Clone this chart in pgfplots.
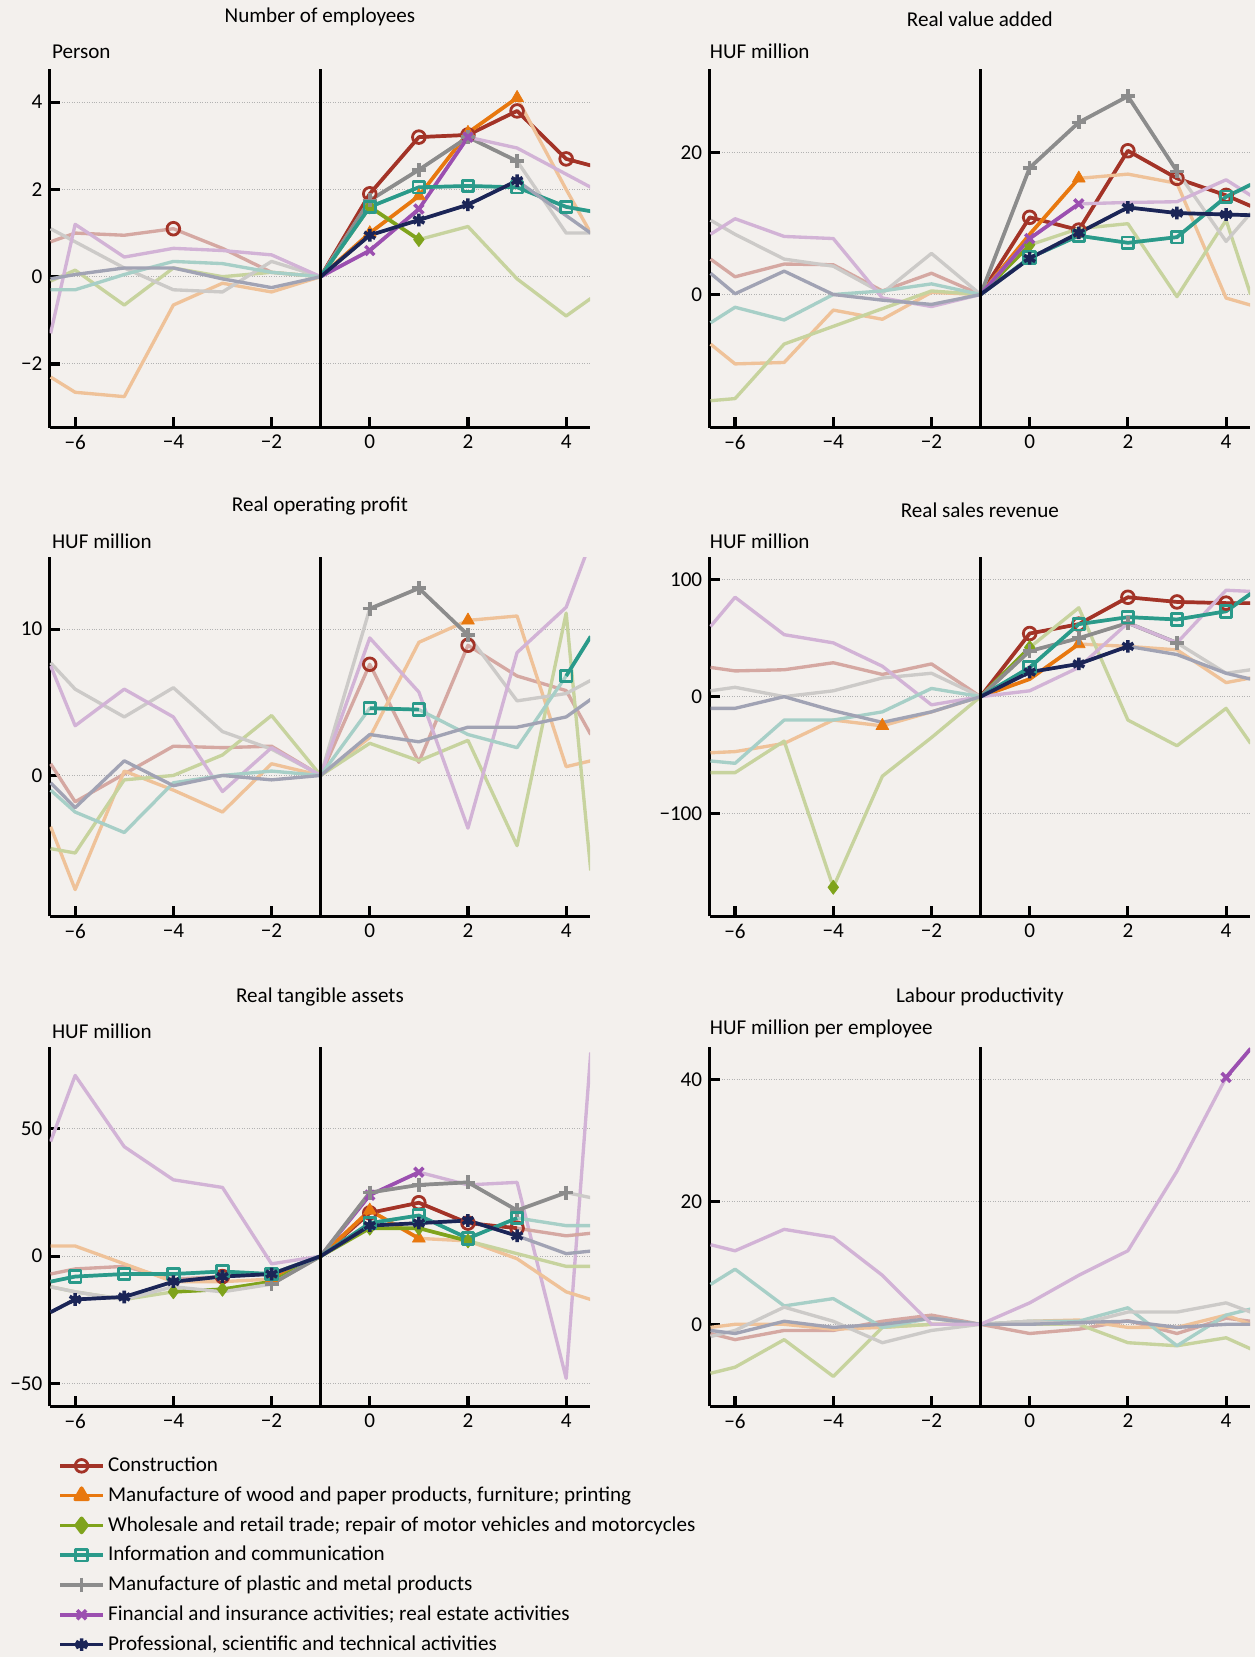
\documentclass[border=0pt]{standalone}
\usepackage{fontspec}
\setmainfont{Carlito}
\usepackage{pgfplots}
\pgfplotsset{compat=1.18}
\definecolor{bg}{HTML}{F3F0ED}
\definecolor{cCon}{HTML}{A33327}
\definecolor{cWoo}{HTML}{E8780F}
\definecolor{cWho}{HTML}{7FA31C}
\definecolor{cInf}{HTML}{2A9A8A}
\definecolor{cPla}{HTML}{8C8C8C}
\definecolor{cFin}{HTML}{9B4FB0}
\definecolor{cPro}{HTML}{1B2557}
\pgfplotsset{
 mCon/.style={mark=o, mark size=3.6pt, mark options={fill=bg, line width=1.6pt}},
 mWoo/.style={mark=triangle*, mark size=4.2pt},
 mWho/.style={mark=diamond*, mark size=4pt},
 mInf/.style={mark=square, mark size=3.3pt, mark options={fill=bg, line width=1.6pt}},
 mPla/.style={mark=+, mark size=4pt, mark options={line width=2pt}},
 mFin/.style={mark=x, mark size=3.6pt, mark options={line width=2pt}},
 mPro/.style={mark=asterisk, mark size=3.6pt, mark options={line width=2pt}},
 panel/.style={scale only axis, width=307.2pt, height=204pt, anchor=south west,
  xmin=-6.52, xmax=4.49, clip=true,
  axis x line*=bottom, axis y line*=left, axis line style={line width=1.8pt,-},
  tick style={line width=1.8pt, black}, major tick length=6pt, tick align=inside,
  xtick={-6,-4,-2,0,2,4}, xticklabels={−6,−4,−2,0,2,4},
  ymajorgrids, grid style={densely dotted, gray!60, line width=0.5pt},
  tick label style={font=\fontsize{12}{14}\selectfont},
  every axis plot/.append style={line join=round}},
}
% color, markstyle, faded, solid, marks
\newcommand\ser[5]{%
 \addplot[forget plot, draw=#1!38!bg, line width=1.9pt, no markers] coordinates {#3};
 \addplot[forget plot, draw=#1, line width=2.1pt, no markers] coordinates {#4};
 \addplot[forget plot, #1, only marks, #2] coordinates {#5};
}
\newcommand\vl{\draw[line width=1.8pt] (axis cs:-1,\pgfkeysvalueof{/pgfplots/ymin}) -- (axis cs:-1,\pgfkeysvalueof{/pgfplots/ymax});}
\begin{document}
\fontsize{12}{14}\selectfont
\begin{tikzpicture}
\fill[bg] (0,0) rectangle (713.4pt,-941.4pt);
\node at (181.8pt,-9.6pt) {Number of employees};
\node at (556.8pt,-11pt) {Real value added};
\node at (181.8pt,-287.4pt) {Real operating profit};
\node at (556.8pt,-289.8pt) {Real sales revenue};
\node at (181.8pt,-566.4pt) {Real tangible assets};
\node at (556.8pt,-566.4pt) {Labour productivity};
\node[anchor=west,inner sep=0] at (29.4pt,-29.4pt) {Person};
\node[anchor=west,inner sep=0] at (403.2pt,-29.4pt) {HUF million};
\node[anchor=west,inner sep=0] at (29.4pt,-307.8pt) {HUF million};
\node[anchor=west,inner sep=0] at (403.2pt,-307.8pt) {HUF million};
\node[anchor=west,inner sep=0] at (29.4pt,-586.2pt) {HUF million};
\node[anchor=west,inner sep=0] at (403.2pt,-584.4pt) {HUF million per employee};

% P1
\begin{axis}[panel, at={(28.2pt,-243pt)}, ymin=-3.46, ymax=4.77, ytick={-2,0,2,4}, yticklabels={−2,0,2,4}]
\ser{cCon}{mCon}{(-6.5,0.8)(-6,1.0)(-5,0.95)(-4,1.1)(-3,0.65)(-2,0.1)(-1,0)(0,1.9)(1,3.2)(2,3.25)(3,3.8)(4,2.7)(4.5,2.55)}{(-1,0)(0,1.9)(1,3.2)(2,3.25)(3,3.8)(4,2.7)(4.5,2.55)}{(-4,1.1)(0,1.9)(1,3.2)(2,3.25)(3,3.8)(4,2.7)}
\ser{cWoo}{mWoo}{(-6.5,-2.3)(-6,-2.65)(-5,-2.75)(-4,-0.65)(-3,-0.15)(-2,-0.35)(-1,0)(0,1.0)(1,1.85)(2,3.3)(3,4.1)(4,2.0)(4.5,1.0)}{(-1,0)(0,1.0)(1,1.85)(2,3.3)(3,4.1)}{(0,1.0)(1,1.85)(2,3.3)(3,4.1)}
\ser{cWho}{mWho}{(-6.5,-0.1)(-6,0.15)(-5,-0.65)(-4,0.2)(-3,0.0)(-2,0.1)(-1,0)(0,1.6)(1,0.85)(2,1.15)(3,-0.05)(4,-0.9)(4.5,-0.5)}{(-1,0)(0,1.6)(1,0.85)}{(0,1.6)(1,0.85)}
\ser{cPla}{mPla}{(-6.5,1.1)(-6,0.8)(-5,0.2)(-4,-0.3)(-3,-0.35)(-2,0.35)(-1,0)(0,1.75)(1,2.45)(2,3.2)(3,2.65)(4,1.0)(4.5,1.0)}{(-1,0)(0,1.75)(1,2.45)(2,3.2)(3,2.65)}{(0,1.75)(1,2.45)(2,3.2)(3,2.65)}
\ser{cFin}{mFin}{(-6.5,-1.3)(-6,1.2)(-5,0.45)(-4,0.65)(-3,0.6)(-2,0.5)(-1,0)(0,0.6)(1,1.55)(2,3.2)(3,2.95)(4,2.35)(4.5,2.05)}{(-1,0)(0,0.6)(1,1.55)(2,3.2)}{(0,0.6)(1,1.55)(2,3.2)}
\ser{cInf}{mInf}{(-6.5,-0.3)(-6,-0.3)(-5,0.05)(-4,0.35)(-3,0.3)(-2,0.1)(-1,0)(0,1.6)(1,2.05)(2,2.08)(3,2.05)(4,1.6)(4.5,1.5)}{(-1,0)(0,1.6)(1,2.05)(2,2.08)(3,2.05)(4,1.6)(4.5,1.5)}{(0,1.6)(1,2.05)(2,2.08)(3,2.05)(4,1.6)}
\ser{cPro}{mPro}{(-6.5,-0.05)(-6,0.05)(-5,0.2)(-4,0.2)(-3,-0.05)(-2,-0.25)(-1,0)(0,0.95)(1,1.3)(2,1.65)(3,2.2)(4,1.4)(4.5,1.0)}{(-1,0)(0,0.95)(1,1.3)(2,1.65)(3,2.2)}{(0,0.95)(1,1.3)(2,1.65)(3,2.2)}
\vl
\end{axis}

% P2
\begin{axis}[panel, at={(403.2pt,-243pt)}, ymin=-18.8, ymax=31.9, ytick={0,20}, yticklabels={0,20}]
\ser{cCon}{mCon}{(-6.5,5)(-6,2.5)(-5,4.3)(-4,4.2)(-3,0.5)(-2,3)(-1,0)(0,10.9)(1,9.1)(2,20.3)(3,16.4)(4,14.0)(4.5,12.5)}{(-1,0)(0,10.9)(1,9.1)(2,20.3)(3,16.4)(4,14.0)(4.5,12.5)}{(0,10.9)(1,9.1)(2,20.3)(3,16.4)(4,14.0)}
\ser{cWoo}{mWoo}{(-6.5,-7)(-6,-9.8)(-5,-9.6)(-4,-2.2)(-3,-3.5)(-2,0.3)(-1,0)(0,8.5)(1,16.4)(2,17.0)(3,15.7)(4,-0.5)(4.5,-1.5)}{(-1,0)(0,8.5)(1,16.4)}{(1,16.4)}
\ser{cWho}{mWho}{(-6.5,-15)(-6,-14.7)(-5,-7)(-4,-4.5)(-3,-2)(-2,0.5)(-1,0)(0,7)(1,9.3)(2,10)(3,-0.3)(4,10.5)(4.5,0)}{(-1,0)(0,7)}{(0,7)}
\ser{cPla}{mPla}{(-6.5,10.5)(-6,8.5)(-5,5)(-4,4)(-3,0.2)(-2,5.8)(-1,0)(0,17.9)(1,24.3)(2,28)(3,17.4)(4,7.5)(4.5,11.5)}{(-1,0)(0,17.9)(1,24.3)(2,28)(3,17.4)}{(0,17.9)(1,24.3)(2,28)(3,17.4)}
\ser{cFin}{mFin}{(-6.5,8.5)(-6,10.7)(-5,8.2)(-4,7.9)(-3,-0.5)(-2,-1.7)(-1,0)(0,7.9)(1,12.8)(2,13)(3,13.1)(4,16.2)(4.5,14)}{(-1,0)(0,7.9)(1,12.8)}{(0,7.9)(1,12.8)}
\ser{cInf}{mInf}{(-6.5,-4)(-6,-1.8)(-5,-3.6)(-4,0)(-3,0.5)(-2,1.5)(-1,0)(0,5.2)(1,8.3)(2,7.3)(3,8.1)(4,13.8)(4.5,15.5)}{(-1,0)(0,5.2)(1,8.3)(2,7.3)(3,8.1)(4,13.8)(4.5,15.5)}{(0,5.2)(1,8.3)(2,7.3)(3,8.1)(4,13.8)}
\ser{cPro}{mPro}{(-6.5,3)(-6,0.1)(-5,3.3)(-4,0)(-3,-0.8)(-2,-1.4)(-1,0)(0,5.1)(1,8.7)(2,12.3)(3,11.5)(4,11.3)(4.5,11.2)}{(-1,0)(0,5.1)(1,8.7)(2,12.3)(3,11.5)(4,11.3)(4.5,11.2)}{(0,5.1)(1,8.7)(2,12.3)(3,11.5)(4,11.3)}
\vl
\end{axis}

% P3
\begin{axis}[panel, at={(28.2pt,-520.8pt)}, ymin=-9.64, ymax=14.9, ytick={0,10}, yticklabels={0,10}]
\ser{cCon}{mCon}{(-6.5,0.8)(-6,-1.8)(-5,0.1)(-4,2.0)(-3,1.9)(-2,2.0)(-1,0)(0,7.6)(1,0.9)(2,8.9)(3,6.8)(4,5.8)(4.5,2.8)}{}{(0,7.6)(2,8.9)}
\ser{cWoo}{mWoo}{(-6.5,-3.5)(-6,-7.8)(-5,0.3)(-4,-1.0)(-3,-2.5)(-2,0.8)(-1,0)(0,2.6)(1,9.1)(2,10.6)(3,10.9)(4,0.6)(4.5,1.0)}{}{(2,10.6)}
\ser{cWho}{mWho}{(-6.5,-5)(-6,-5.3)(-5,-0.3)(-4,0)(-3,1.4)(-2,4.1)(-1,0)(0,2.2)(1,1.0)(2,2.4)(3,-4.8)(4,11.1)(4.5,-6.5)}{}{}
\ser{cPla}{mPla}{(-6.5,7.7)(-6,5.9)(-5,4.0)(-4,6.0)(-3,3.0)(-2,1.8)(-1,0)(0,11.4)(1,12.8)(2,9.6)(3,5.1)(4,5.6)(4.5,6.5)}{(0,11.4)(1,12.8)(2,9.6)}{(0,11.4)(1,12.8)(2,9.6)}
\ser{cFin}{mFin}{(-6.5,7.5)(-6,3.4)(-5,5.9)(-4,4.0)(-3,-1.1)(-2,1.9)(-1,0)(0,9.4)(1,5.7)(2,-3.6)(3,8.4)(4,11.5)(4.5,16)}{}{}
\ser{cInf}{mInf}{(-6.5,-1)(-6,-2.5)(-5,-3.9)(-4,-0.5)(-3,0)(-2,0.3)(-1,0)(0,4.6)(1,4.5)(2,2.8)(3,1.9)(4,6.8)(4.5,9.5)}{(0,4.6)(1,4.5)}{(0,4.6)(1,4.5)(4,6.8)}
\addplot[forget plot, draw=cInf, line width=2.1pt, no markers] coordinates {(4,6.8)(4.5,9.5)};
\ser{cPro}{mPro}{(-6.5,-0.5)(-6,-2.2)(-5,1.0)(-4,-0.7)(-3,0)(-2,-0.3)(-1,0)(0,2.8)(1,2.3)(2,3.3)(3,3.3)(4,4.0)(4.5,5.2)}{}{}
\vl
\end{axis}

% P4
\begin{axis}[panel, at={(403.2pt,-520.8pt)}, ymin=-188, ymax=119, ytick={-100,0,100}, yticklabels={−100,0,100}]
\ser{cCon}{mCon}{(-6.5,25)(-6,22)(-5,23)(-4,29)(-3,19)(-2,28)(-1,0)(0,54)(1,62)(2,85)(3,81)(4,80)(4.5,80)}{(-1,0)(0,54)(1,62)(2,85)(3,81)(4,80)(4.5,80)}{(0,54)(1,62)(2,85)(3,81)(4,80)}
\ser{cWoo}{mWoo}{(-6.5,-48)(-6,-47)(-5,-40)(-4,-20)(-3,-25)(-2,-13)(-1,0)(0,15)(1,45)(2,43)(3,40)(4,12)(4.5,16)}{(-1,0)(0,15)(1,45)}{(-3,-25)(1,45)}
\ser{cWho}{mWho}{(-6.5,-65)(-6,-65)(-5,-38)(-4,-163)(-3,-68)(-2,-35)(-1,0)(0,42)(1,76)(2,-20)(3,-42)(4,-10)(4.5,-40)}{(-1,0)(0,42)}{(-4,-163)(0,42)}
\ser{cPla}{mPla}{(-6.5,5)(-6,8)(-5,0)(-4,5)(-3,16)(-2,20)(-1,0)(0,39)(1,50)(2,63)(3,46)(4,20)(4.5,23)}{(-1,0)(0,39)(1,50)(2,63)(3,46)}{(0,39)(1,50)(2,63)(3,46)}
\ser{cFin}{mFin}{(-6.5,60)(-6,85)(-5,53)(-4,46)(-3,26)(-2,-7)(-1,0)(0,5)(1,25)(2,63)(3,46)(4,91)(4.5,90)}{}{}
\ser{cInf}{mInf}{(-6.5,-55)(-6,-57)(-5,-20)(-4,-20)(-3,-13)(-2,7)(-1,0)(0,25)(1,62)(2,68)(3,66)(4,73)(4.5,88)}{(-1,0)(0,25)(1,62)(2,68)(3,66)(4,73)(4.5,88)}{(0,25)(1,62)(2,68)(3,66)(4,73)}
\ser{cPro}{mPro}{(-6.5,-10)(-6,-10)(-5,0)(-4,-12)(-3,-22)(-2,-13)(-1,0)(0,21)(1,28)(2,43)(3,36)(4,20)(4.5,15)}{(-1,0)(0,21)(1,28)(2,43)}{(0,21)(1,28)(2,43)}
\vl
\end{axis}

% P5
\begin{axis}[panel, at={(28.2pt,-799.2pt)}, ymin=-59, ymax=82, ytick={-50,0,50}, yticklabels={−50,0,50},
 legend style={at={(0.016,-0.13)}, anchor=north west, draw=none, fill=none, font=\fontsize{12}{14}\selectfont, row sep=2.8pt, inner sep=0pt, nodes={inner sep=2pt}},
 legend cell align=left, legend image code/.code={\draw[#1] (0pt,0pt) -- (12pt,0pt) (24pt,0pt) -- (12pt,0pt); \draw[#1, only marks] plot coordinates {(12pt,0pt)};}]
\ser{cFin}{mFin}{(-6.5,45)(-6,71)(-5,43)(-4,30)(-3,27)(-2,-3)(-1,0)(0,24)(1,33)(2,28)(3,29)(4,-48)(4.5,80)}{(-1,0)(0,24)(1,33)}{(0,24)(1,33)}
\ser{cCon}{mCon}{(-6.5,-7)(-6,-5)(-5,-4)(-4,-9)(-3,-8)(-2,-7)(-1,0)(0,17)(1,21)(2,13)(3,11)(4,8)(4.5,9)}{(-1,0)(0,17)(1,21)(2,13)(3,11)}{(-3,-8)(0,17)(1,21)(2,13)(3,11)}
\ser{cWoo}{mWoo}{(-6.5,4)(-6,4)(-5,-3)(-4,-10)(-3,-10)(-2,-9)(-1,0)(0,18)(1,7)(2,6)(3,-1)(4,-14)(4.5,-17)}{(-2,-9)(-1,0)(0,18)(1,7)}{(-2,-9)(0,18)(1,7)}
\ser{cWho}{mWho}{(-6.5,-12)(-6,-14)(-5,-17)(-4,-14)(-3,-13)(-2,-10)(-1,0)(0,11)(1,11)(2,6)(3,1)(4,-4)(4.5,-4)}{(-4,-14)(-3,-13)(-2,-10)(-1,0)(0,11)(1,11)(2,6)}{(-4,-14)(-3,-13)(0,11)(1,11)(2,6)}
\ser{cPla}{mPla}{(-6.5,-12)(-6,-14)(-5,-17)(-4,-12)(-3,-14)(-2,-11)(-1,0)(0,25)(1,28)(2,29)(3,18)(4,25)(4.5,23)}{(-2,-11)(-1,0)(0,25)(1,28)(2,29)(3,18)(4,25)}{(-2,-11)(0,25)(1,28)(2,29)(3,18)(4,25)}
\ser{cInf}{mInf}{(-6.5,-10)(-6,-8)(-5,-7)(-4,-7)(-3,-6)(-2,-7)(-1,0)(0,13)(1,16)(2,7)(3,15)(4,12)(4.5,12)}{(-6.5,-10)(-6,-8)(-5,-7)(-4,-7)(-3,-6)(-2,-7)(-1,0)(0,13)(1,16)(2,7)(3,15)}{(-6,-8)(-5,-7)(-4,-7)(-3,-6)(-2,-7)(0,13)(1,16)(2,7)(3,15)}
\ser{cPro}{mPro}{(-6.5,-22)(-6,-17)(-5,-16)(-4,-10)(-3,-8)(-2,-7)(-1,0)(0,12)(1,13)(2,14)(3,8)(4,1)(4.5,2)}{(-6.5,-22)(-6,-17)(-5,-16)(-4,-10)(-3,-8)(-2,-7)(-1,0)(0,12)(1,13)(2,14)(3,8)}{(-6,-17)(-5,-16)(-4,-10)(-3,-8)(-2,-7)(0,12)(1,13)(2,14)(3,8)}
\vl
\addlegendimage{cCon, line width=2.1pt, mCon}\addlegendentry{Construction}
\addlegendimage{cWoo, line width=2.1pt, mWoo}\addlegendentry{Manufacture of wood and paper products, furniture; printing}
\addlegendimage{cWho, line width=2.1pt, mWho}\addlegendentry{Wholesale and retail trade; repair of motor vehicles and motorcycles}
\addlegendimage{cInf, line width=2.1pt, mInf}\addlegendentry{Information and communication}
\addlegendimage{cPla, line width=2.1pt, mPla}\addlegendentry{Manufacture of plastic and metal products}
\addlegendimage{cFin, line width=2.1pt, mFin}\addlegendentry{Financial and insurance activities; real estate activities}
\addlegendimage{cPro, line width=2.1pt, mPro}\addlegendentry{Professional, scientific and technical activities}
\end{axis}

% P6
\begin{axis}[panel, at={(403.2pt,-799.2pt)}, ymin=-13.4, ymax=45.2, ytick={0,20,40}, yticklabels={0,20,40}]
\ser{cCon}{mCon}{(-6.5,-1.5)(-6,-2.5)(-5,-1.0)(-4,-1.0)(-3,0.5)(-2,1.5)(-1,0)(0,-1.5)(1,-0.8)(2,0.6)(3,-1.5)(4,1.0)(4.5,0.5)}{}{}
\ser{cWoo}{mWoo}{(-6.5,-0.5)(-6,0)(-5,0)(-4,-0.8)(-3,-0.5)(-2,0)(-1,0)(0,0.5)(1,0.7)(2,-0.5)(3,-0.5)(4,1.5)(4.5,0)}{}{}
\ser{cWho}{mWho}{(-6.5,-8)(-6,-7)(-5,-2.5)(-4,-8.5)(-3,-0.5)(-2,0)(-1,0)(0,0)(1,0)(2,-3)(3,-3.5)(4,-2.2)(4.5,-4)}{}{}
\ser{cInf}{mInf}{(-6.5,6.5)(-6,9)(-5,3)(-4,4.2)(-3,-0.5)(-2,1)(-1,0)(0,0.5)(1,0.5)(2,2.7)(3,-3.5)(4,1.5)(4.5,2.5)}{}{}
\ser{cPla}{mPla}{(-6.5,-2)(-6,-1)(-5,2.8)(-4,0.5)(-3,-3)(-2,-1)(-1,0)(0,0.5)(1,0)(2,2)(3,2)(4,3.5)(4.5,2)}{}{}
\ser{cPro}{mPro}{(-6.5,-1)(-6,-1.5)(-5,0.5)(-4,-0.5)(-3,0)(-2,1)(-1,0)(0,0)(1,0.3)(2,0.5)(3,-0.5)(4,0)(4.5,0)}{}{}
\ser{cFin}{mFin}{(-6.5,13)(-6,12)(-5,15.5)(-4,14.2)(-3,8)(-2,0)(-1,0)(0,3.5)(1,8)(2,12)(3,25)(4,40.3)(4.5,45)}{(4,40.3)(4.5,45)}{(4,40.3)}
\vl
\end{axis}
\end{tikzpicture}
\end{document}
